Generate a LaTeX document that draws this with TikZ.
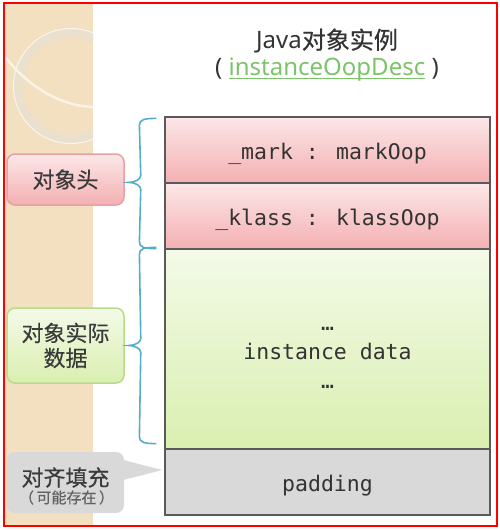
\documentclass[tikz,border=0pt]{standalone}
\usepackage{fontspec}
\setmainfont{Noto Sans}
\newfontfamily\cjk{Noto Sans CJK SC}[FakeBold=0.35]
\newfontfamily\monof{DejaVu Sans Mono}
\usetikzlibrary{calc}
\definecolor{strip}{HTML}{F2E0C0}
\definecolor{ring}{HTML}{EAE0CD}
\definecolor{boxline}{HTML}{5A5A5A}
\definecolor{txt}{HTML}{333333}
\definecolor{lbltxt}{HTML}{3A3A3A}
\definecolor{pinkT}{HTML}{FCE7E8}
\definecolor{pinkB}{HTML}{F4B0B2}
\definecolor{greenT}{HTML}{F3FAE8}
\definecolor{greenB}{HTML}{DAEFB0}
\definecolor{grayF}{HTML}{D9D9D9}
\definecolor{pinkline}{HTML}{E8A0A4}
\definecolor{greenline}{HTML}{B8DA8C}
\definecolor{brace}{HTML}{55AEC6}
\definecolor{linkgreen}{HTML}{7CC36A}
\tikzset{
  rowbox/.style={draw=boxline, line width=1.2pt, minimum width=325pt, inner sep=0pt,
    font=\monof\fontsize{21.5}{29}\selectfont, text=txt, align=center,
    text height=19pt, text depth=0pt},
  rowtext/.style={inner sep=0pt, font=\monof\fontsize{21.5}{29}\selectfont, text=txt, align=center},
  lbl/.style={rounded corners=8pt, minimum width=117pt, inner sep=0pt,
    font=\cjk\fontsize{22}{25}\selectfont, text=lbltxt, align=center, line width=1.5pt},
  brc/.style={draw=brace, line width=1.6pt},
}
\begin{document}
\begin{tikzpicture}[x=1pt,y=-1pt]
\useasboundingbox (0,0) rectangle (500,530);
% decorative strip
\fill[strip] (4,3) rectangle (93,526);
\begin{scope}
\clip (4,3) rectangle (93,526);
\draw[ring, line width=9pt] (71,86) circle (53);
\draw[white!70!ring, line width=1pt] (71,86) circle (57.5);
\draw[white!60!strip, line width=2.5pt] (6,58) .. controls (28,86) and (60,106) .. (93,107);
\end{scope}
% title
\node[font=\fontsize{24}{28}\selectfont, text=txt] (title) at (327,41) {Java{\cjk 对象实例}};
\node[font=\fontsize{24}{28}\selectfont, text=txt] (sub) at (327,70)
  {(\ {\color{linkgreen}\setbox0\hbox{instanceOopDesc}\rlap{\rule[-3pt]{\wd0}{1.1pt}}\box0}\ )};
% rows
\node[rowbox, minimum height=66pt, top color=pinkT, bottom color=pinkB] (mark) at (327.5,150) {\_mark : markOop};
\node[rowbox, minimum height=66pt, top color=pinkT, bottom color=pinkB] (klass) at (327.5,216) {\_klass : klassOop};
\node[rowbox, minimum height=200pt, top color=greenT, bottom color=greenB] (data) at (327.5,349) {};
\node[rowtext] (datatxt) at ($(data.center)+(0,9)$) {…\\instance data\\…};
\node[rowbox, minimum height=66pt, fill=grayF] (padding) at (327.5,482) {padding};
% labels
\node[lbl, draw=pinkline, top color=pinkT, bottom color=pinkB, minimum height=51pt] (headlbl) at (65.5,179.5) {对象头};
\node[lbl, draw=greenline, top color=greenT, bottom color=greenB, minimum height=75pt] (datalbl) at (65.5,345.5) {对象实际\\数据};
\fill[grayF] ($(padding.west)+(-45,-23)$) -- ($(padding.west)+(-2,-12)$) -- ($(padding.west)+(-45,-1)$) -- cycle;
\node[lbl, fill=grayF, minimum height=61pt] (padlbl) at (65.5,482.5) {};
\node[font=\cjk\fontsize{22}{25}\selectfont, text=lbltxt, inner sep=0pt] (padlbl1) at ($(padlbl.center)+(0,-5)$) {对齐填充};
\node[font=\cjk\fontsize{15}{17}\selectfont, text=black!62, inner sep=0pt] (padlbl2) at ($(padlbl.center)+(1,15)$) {（\,可能存在\,）};
% braces
\coordinate (b1a) at ($(mark.north west)+(-8,2)$);
\coordinate (b1c) at ($(klass.north west -| headlbl.east)+(4,0)$);
\coordinate (b1b) at ($(klass.south west)+(-8,-1)$);
\draw[brc] (b1a) .. controls +(-12,0) and +(0,-6) .. ($(b1a)+(-17,7)$)
  -- ($(b1c)+(12,-7)$) .. controls +(0,4) and +(6,0) .. (b1c)
  .. controls +(6,0) and +(0,-4) .. ($(b1c)+(12,7)$)
  -- ($(b1b)+(-17,-7)$) .. controls +(0,6) and +(-12,0) .. (b1b);
\coordinate (b2a) at ($(data.north west)+(-8,-1)$);
\coordinate (b2c) at ($(datalbl.east)+(4,0)$);
\coordinate (b2b) at ($(data.south west)+(-8,-6)$);
\draw[brc] (b2a) .. controls +(-12,0) and +(0,-6) .. ($(b2a)+(-17,7)$)
  -- ($(b2c)+(12,-7)$) .. controls +(0,4) and +(6,0) .. (b2c)
  .. controls +(6,0) and +(0,-4) .. ($(b2c)+(12,7)$)
  -- ($(b2b)+(-17,-7)$) .. controls +(0,6) and +(-12,0) .. (b2b);
% frame
\draw[red, line width=2.2pt] (4,3) rectangle (497,526);
\end{tikzpicture}
\end{document}
